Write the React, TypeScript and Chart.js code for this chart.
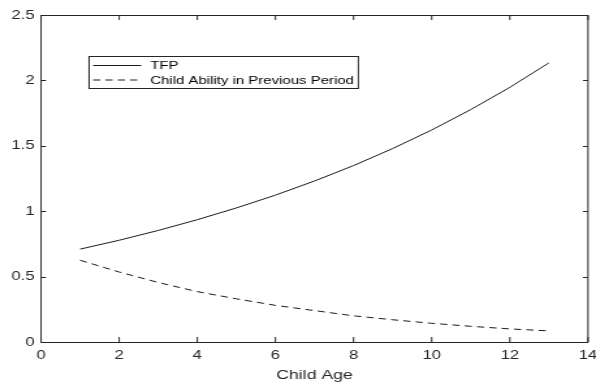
import React, { useEffect, useRef } from "react";
import { Chart, registerables } from "chart.js";

Chart.register(...registerables);

const ages = [1, 2, 3, 4, 5, 6, 7, 8, 9, 10, 11, 12, 13];
const tfp = [0.71, 0.778, 0.853, 0.935, 1.025, 1.123, 1.231, 1.349, 1.479, 1.621, 1.777, 1.947, 2.134];
const childAbility = [0.625, 0.535, 0.455, 0.385, 0.33, 0.28, 0.24, 0.2, 0.17, 0.143, 0.12, 0.1, 0.085];
const xTicks = [0, 2, 4, 6, 8, 10, 12, 14];
const yTicks = [0, 0.5, 1, 1.5, 2, 2.5];
const seriesNames = ["TFP", "Child Ability in Previous Period"];

const AXIS = "#262626";
const FONT = "'Liberation Sans', Arial, sans-serif";
// the reference figure is stretched horizontally; render narrower and stretch with CSS
const CSS_W = 596;
const CSS_H = 385;
const STRETCH = 1.3;
const W = Math.round(CSS_W / STRETCH);

const boxPlugin = {
  id: "matlabBox",
  afterDraw(chart: any) {
    const { ctx, chartArea } = chart;
    const { left, right, top, bottom } = chartArea;
    const xs = chart.scales.x;
    const ys = chart.scales.y;
    ctx.save();
    ctx.strokeStyle = AXIS;
    ctx.lineWidth = 1;
    ctx.beginPath();
    ctx.rect(left, Math.round(top) + 0.5, right - left, Math.round(bottom - top));
    ctx.stroke();
    const tlx = 5;
    const tly = 5 / STRETCH;
    ctx.beginPath();
    for (const v of xTicks) {
      const px = xs.getPixelForValue(v);
      ctx.moveTo(px, bottom);
      ctx.lineTo(px, bottom - tlx);
      ctx.moveTo(px, top);
      ctx.lineTo(px, top + tlx);
    }
    for (const v of yTicks) {
      const py = Math.round(ys.getPixelForValue(v)) + 0.5;
      ctx.moveTo(left, py);
      ctx.lineTo(left + tly, py);
      ctx.moveTo(right, py);
      ctx.lineTo(right - tly, py);
    }
    ctx.stroke();

    // legend box (inside the axes, upper left)
    const lx = 89 / STRETCH, ly = 56.5, lw = 269 / STRETCH, lh = 32;
    ctx.fillStyle = "#ffffff";
    ctx.fillRect(lx, ly, lw, lh);
    ctx.strokeStyle = AXIS;
    ctx.strokeRect(lx, ly, lw, lh);
    ctx.font = `11.5px ${FONT}`;
    ctx.textBaseline = "middle";
    ctx.textAlign = "left";
    chart.data.datasets.forEach((ds: any, i: number) => {
      const yy = ly + 9 + i * 14.5;
      ctx.strokeStyle = ds.borderColor;
      ctx.lineWidth = 1;
      ctx.setLineDash(ds.borderDash || []);
      ctx.beginPath();
      ctx.moveTo(93 / STRETCH, yy);
      ctx.lineTo(141 / STRETCH, yy);
      ctx.stroke();
      ctx.setLineDash([]);
      ctx.fillStyle = "#000000";
      ctx.fillText(ds.label, 150 / STRETCH, yy + 0.5);
    });
    ctx.restore();
  },
};

export default function App() {
  const ref = useRef<HTMLCanvasElement>(null);
  useEffect(() => {
    document.body.style.margin = "0";
    const chart = new Chart(ref.current!, {
      type: "line",
      data: {
        datasets: [
          {
            label: seriesNames[0],
            data: ages.map((a, i) => ({ x: a, y: tfp[i] })),
            borderColor: "#1a1a1a",
            borderWidth: 1,
            pointRadius: 0,
            tension: 0,
            fill: false,
          },
          {
            label: seriesNames[1],
            data: ages.map((a, i) => ({ x: a, y: childAbility[i] })),
            borderColor: "#1a1a1a",
            borderWidth: 1,
            borderDash: [5.5, 4],
            pointRadius: 0,
            tension: 0,
            fill: false,
          },
        ],
      },
      options: {
        animation: false,
        responsive: false,
        maintainAspectRatio: false,
        devicePixelRatio: 1,
        layout: { padding: { top: 15, right: 8 / STRETCH, left: 0, bottom: 0 } },
        plugins: { legend: { display: false }, tooltip: { enabled: false } },
        scales: {
          x: {
            type: "linear",
            min: 0,
            max: 14,
            afterBuildTicks: (s: any) => {
              s.ticks = xTicks.map((v) => ({ value: v }));
            },
            afterFit: (s: any) => {
              s.height = 43;
              s.paddingLeft = 0;
              s.paddingRight = 0;
            },
            grid: { display: false, drawTicks: false },
            border: { display: false },
            ticks: {
              color: AXIS,
              font: { family: FONT, size: 12.8 },
              padding: 6,
              maxRotation: 0,
              autoSkip: false,
            },
            title: {
              display: true,
              text: "Child Age",
              color: AXIS,
              font: { family: FONT, size: 13.6 },
              padding: { top: 0, bottom: 2 },
            },
          },
          y: {
            type: "linear",
            min: 0,
            max: 2.5,
            afterBuildTicks: (s: any) => {
              s.ticks = yTicks.map((v) => ({ value: v }));
            },
            afterFit: (s: any) => {
              s.width = 41 / STRETCH;
              s.paddingTop = 0;
              s.paddingBottom = 0;
            },
            grid: { display: false, drawTicks: false },
            border: { display: false },
            ticks: {
              color: AXIS,
              font: { family: FONT, size: 12.8 },
              padding: 5,
              autoSkip: false,
              callback: (v: any) => String(v),
            },
          },
        },
      },
      plugins: [boxPlugin],
    });
    return () => chart.destroy();
  }, []);
  return (
    <div style={{ position: "absolute", left: 0, top: 0, width: CSS_W, height: CSS_H }}>
      <canvas
        ref={ref}
        width={W}
        height={CSS_H}
        style={{ width: CSS_W, height: CSS_H, display: "block" }}
      />
    </div>
  );
}
